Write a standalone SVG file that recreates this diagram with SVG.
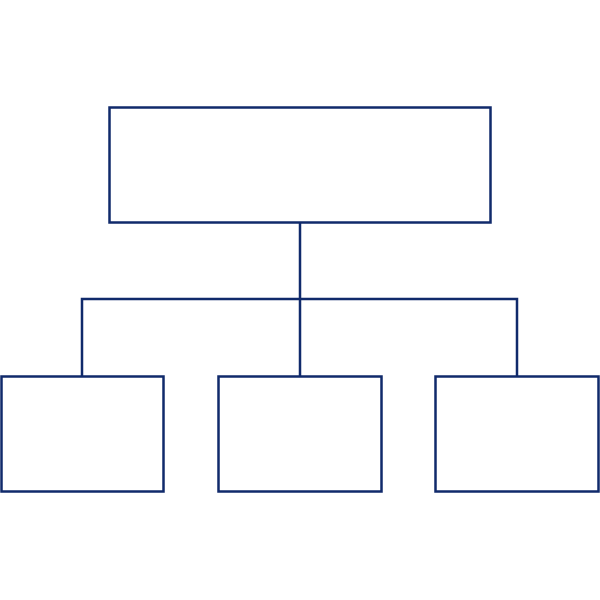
<svg xmlns="http://www.w3.org/2000/svg" width="600" height="600" viewBox="0 0 600 600">
<style>.n{fill:#fff;stroke:#102a6b;stroke-width:2.5}.c{fill:none;stroke:#102a6b;stroke-width:2.5}</style>
<rect width="600" height="600" fill="#fff"/>
<g id="connectors"><path class="c" d="M300 222V376M82 376V299H517V376"/></g>
<g id="top"><rect class="n" x="109.5" y="107.5" width="381" height="115"/></g>
<g id="left"><rect class="n" x="1.5" y="376.5" width="162" height="115"/></g>
<g id="mid"><rect class="n" x="218.5" y="376.5" width="163" height="115"/></g>
<g id="right"><rect class="n" x="435.5" y="376.5" width="163" height="115"/></g>
</svg>
